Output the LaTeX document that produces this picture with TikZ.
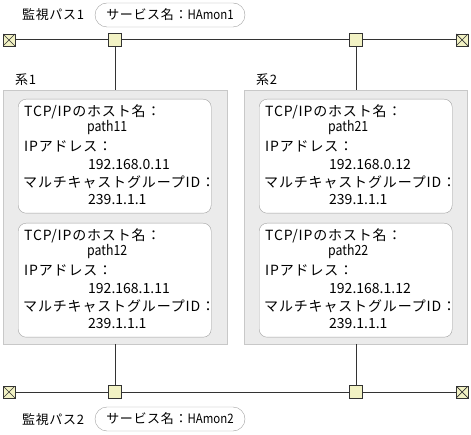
\documentclass[tikz,border=0pt]{standalone}
\usepackage{fontspec}
\setmainfont{Noto Sans CJK JP}[LetterSpace=5]
\newfontfamily\narrowfont{Noto Sans CJK JP}[FakeStretch=0.88]
\newfontfamily\numfont{Noto Sans CJK JP}
\usepackage{xcolor}
\definecolor{hajoint}{RGB}{242,242,196}
\definecolor{haline}{RGB}{51,51,51}
\definecolor{hagroup}{RGB}{235,235,235}
\definecolor{hagroupline}{RGB}{200,200,200}
\definecolor{haboxline}{RGB}{160,160,160}
\usepackage{tikz}
\usetikzlibrary{positioning, calc}

\begin{document}
\begin{tikzpicture}[
  x=1pt, y=-1pt,
  every node/.style={font=\fontsize{13}{16}\selectfont},
  joint/.style={draw=haline, fill=hajoint, line width=0.9pt, minimum size=13pt, inner sep=0pt},
  endjoint/.style={joint, minimum size=12pt,
    path picture={\draw[haline, line width=0.7pt]
      (path picture bounding box.north west) -- (path picture bounding box.south east)
      (path picture bounding box.north east) -- (path picture bounding box.south west);}},
  wire/.style={draw=haline, line width=1pt},
  groupbox/.style={draw=hagroupline, fill=hagroup, anchor=north west, inner sep=0pt,
    minimum width=224pt, minimum height=254pt},
  hostbox/.style={draw=haboxline, fill=white, rounded corners=8pt, anchor=north west,
    inner sep=0pt, minimum width=193pt, minimum height=114pt},
  pill/.style={draw=haboxline, rounded corners=12pt, minimum width=150pt, minimum height=24pt, inner sep=0pt},
  txt/.style={inner sep=0pt, anchor=base west},
  boxtxt/.style={txt, font=\fontsize{14}{16}\selectfont\addfontfeatures{LetterSpace=6}}
]
  \useasboundingbox (0,0) rectangle (471,435);

  % groups
  \node[groupbox] (grp1) at (3,90) {};
  \node[groupbox, minimum width=223pt] (grp2) at (244,90) {};
  \node[txt] (grp1-lbl) at (15,85) {系1};
  \node[txt] (grp2-lbl) at (256,85) {系2};

  % host info boxes
  \foreach \n/\x/\y/\h/\ip in {h11/18/99/path11/192.168.0.11, h12/18/223/path12/192.168.1.11,
                                h21/259/99/path21/192.168.0.12, h22/259/223/path22/192.168.1.12} {
    \node[hostbox] (\n) at (\x,\y) {};
    \node[boxtxt] (\n-a) at ($(\n.north west)+(6,17.5)$) {TCP/IPのホスト名：};
    \node[boxtxt] (\n-b) at ($(\n.north west)+(69,33)$) {\narrowfont\h};
    \node[boxtxt] (\n-c) at ($(\n.north west)+(6,53)$) {IPアドレス：};
    \node[boxtxt] (\n-d) at ($(\n.north west)+(70,71)$) {\numfont\ip};
    \node[boxtxt] (\n-e) at ($(\n.north west)+(5,89)$) {マルチキャストグループID：};
    \node[boxtxt] (\n-f) at ($(\n.north west)+(70,106)$) {\numfont 239.1.1.1};
  }

  % monitoring paths
  \node[endjoint] (e1l) at (9,40) {};
  \node[joint] (j1l) at (115,40) {};
  \node[joint] (j1r) at (356,40) {};
  \node[endjoint] (e1r) at (462,40) {};
  \node[endjoint] (e2l) at (9,392) {};
  \node[joint] (j2l) at (115,392) {};
  \node[joint] (j2r) at (356,392) {};
  \node[endjoint] (e2r) at (462,392) {};

  \draw[wire] (e1l) -- (j1l) -- (j1r) -- (e1r);
  \draw[wire] (e2l) -- (j2l) -- (j2r) -- (e2r);
  \draw[wire] (j1l) -- (j1l |- grp1.north);
  \draw[wire] (j1r) -- (j1r |- grp2.north);
  \draw[wire] (j2l) -- (j2l |- grp1.south);
  \draw[wire] (j2r) -- (j2r |- grp2.south);

  % labels
  \node[txt] (path1) at (22,20) {監視パス1};
  \node[pill] (svc1) at (170,15) {サービス名：{\narrowfont HAmon1}};
  \node[txt] (path2) at (22,424) {監視パス2};
  \node[pill] (svc2) at (170,419) {サービス名：{\narrowfont HAmon2}};
\end{tikzpicture}
\end{document}
